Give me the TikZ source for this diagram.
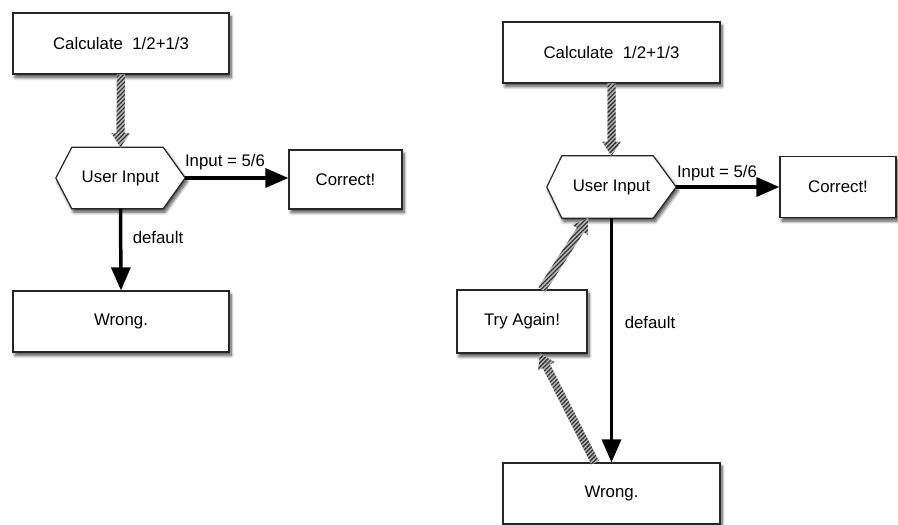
\documentclass[tikz,border=0pt]{standalone}
\usepackage{fontspec}
\setmainfont{Liberation Sans}
\usetikzlibrary{arrows.meta,shadows.blur,calc,patterns.meta}
\newcommand{\hatcharrow}[2]{%
  \coordinate (hA) at (#1);
  \coordinate (hB) at (#2);
  \coordinate (hC) at ($(hB)!14pt!(hA)$);
  \path[hatchfill]
    ($(hA)!4pt!90:(hB)$) -- ($(hC)!4pt!90:(hB)$) -- ($(hC)!9pt!90:(hB)$) -- (hB)
    -- ($(hC)!9pt!-90:(hB)$) -- ($(hC)!4pt!-90:(hB)$) -- ($(hA)!4pt!-90:(hB)$) -- cycle;
  \path[hatchlines]
    ($(hA)!4pt!90:(hB)$) -- ($(hC)!4pt!90:(hB)$) -- ($(hC)!9pt!90:(hB)$) -- (hB)
    -- ($(hC)!9pt!-90:(hB)$) -- ($(hC)!4pt!-90:(hB)$) -- ($(hA)!4pt!-90:(hB)$) -- cycle;
}
\begin{document}
\begin{tikzpicture}[x=1pt,y=-1pt,
  every node/.style={font=\fontsize{16.8}{19}\selectfont},
  shad/.style={blur shadow={shadow xshift=2pt, shadow yshift=-3.5pt, shadow blur steps=8, shadow blur radius=3pt, shadow opacity=70}},
  box/.style={draw=black!85, line width=1.2pt, fill=white, inner sep=0pt, shad},
  hexbox/.style={inner sep=0pt, minimum width=129pt, minimum height=61pt},
  hexline/.style={draw=black!85, line width=1.2pt, fill=white, shad},
  lbl/.style={inner sep=0pt, text=black},
  flow/.style={draw=black, line width=3.5pt, -{Triangle[length=23pt,width=19pt,color=black,fill=black]}},
  hatchfill/.style={fill=black!28, draw=black!28, line width=0.4pt},
  hatchlines/.style={pattern={Lines[angle=45,distance=3pt,line width=1.3pt]}, pattern color=black!80}
]
\useasboundingbox (0,0) rectangle (898,525);

% ---------- left diagram ----------
\node[box, minimum width=216pt, minimum height=61pt] (c1) at (121,43.5) {Calculate\ \ 1/2+1/3};
\node[hexbox] (h1) at (120.5,178) {};
\path[hexline] (h1.west) -- ([xshift=16pt]h1.north west) -- ([xshift=-22pt]h1.north east) -- (h1.east)
  -- ([xshift=-22pt]h1.south east) -- ([xshift=16pt]h1.south west) -- cycle;
\node[lbl] at (h1.center) {User Input};
\node[box, minimum width=113pt, minimum height=59pt] (r1) at (345.5,179.5) {Correct!};
\node[box, minimum width=216pt, minimum height=61pt] (w1) at (121,321.5) {Wrong.};

\draw[flow] (h1.east) -- (h1.east -| r1.west);
\draw[flow] (h1.south) -- (w1.north);
\hatcharrow{c1.south}{h1.north}
\node[lbl] (l1) at (225,162) {Input = 5/6};
\node[lbl] (d1) at (158,237) {default};

% ---------- right diagram ----------
\node[box, minimum width=217pt, minimum height=61pt] (c2) at (611.5,52.5) {Calculate\ \ 1/2+1/3};
\node[box, minimum width=116pt, minimum height=61pt] (r2) at (838,187) {Correct!};
\node[box, minimum width=130pt, minimum height=63pt] (t2) at (522,321.5) {Try Again!};
\node[box, minimum width=217pt, minimum height=61pt] (w2) at (611.5,493.5) {Wrong.};
\node[hexbox, minimum height=62pt] (h2) at (611.5,187) {};
\path[hexline] (h2.west) -- ([xshift=15pt]h2.north west) -- ([xshift=-23pt]h2.north east) -- (h2.east)
  -- ([xshift=-23pt]h2.south east) -- ([xshift=15pt]h2.south west) -- cycle;
\node[lbl] at (h2.center) {User Input};

\draw[flow] (h2.east) -- (h2.east -| r2.west);
\draw[flow] (h2.south) -- (w2.north);
\hatcharrow{c2.south}{h2.north}
\hatcharrow{[xshift=-16.5pt]w2.north}{[xshift=18pt]t2.south}
\hatcharrow{[xshift=20pt]t2.north}{[xshift=-23.5pt]h2.south}
\node[lbl] (l2) at (717,173) {Input = 5/6};
\node[lbl] (d2) at (650,322) {default};
\end{tikzpicture}
\end{document}
